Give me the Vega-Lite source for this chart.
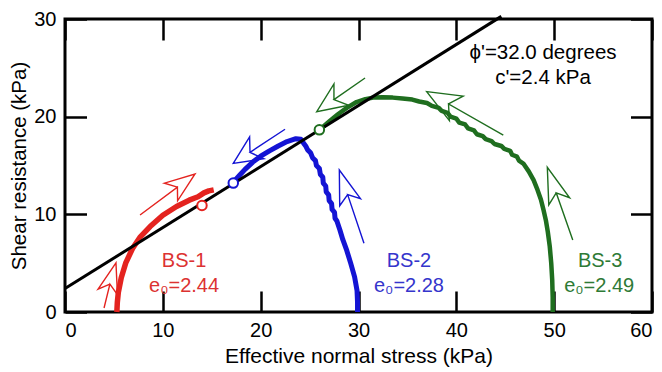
{
  "$schema": "https://vega.github.io/schema/vega-lite/v6.json",
  "width": 587,
  "height": 293,
  "autosize": {"type": "none"},
  "padding": {"left": 65, "top": 19, "right": 10, "bottom": 60},
  "background": "white",
  "config": {
    "view": {"stroke": "black", "strokeWidth": 3},
    "font": "Liberation Sans",
    "axis": {"domain": false, "ticks": false, "labelColor": "black", "titleColor": "black", "titleFontWeight": "normal", "labelFont": "Liberation Sans", "titleFont": "Liberation Sans"}
  },
  "datasets": {
    "paths": [
      {"g": "BS-1", "s": 5.3, "t": 0}, {"g": "BS-1", "s": 5.35, "t": 1.0}, {"g": "BS-1", "s": 5.45, "t": 2.0}, {"g": "BS-1", "s": 5.75, "t": 3.5}, {"g": "BS-1", "s": 6.2, "t": 5.0}, {"g": "BS-1", "s": 6.9, "t": 6.5}, {"g": "BS-1", "s": 7.7, "t": 7.7}, {"g": "BS-1", "s": 8.7, "t": 8.75}, {"g": "BS-1", "s": 10.0, "t": 9.9}, {"g": "BS-1", "s": 11.4, "t": 10.8}, {"g": "BS-1", "s": 12.7, "t": 11.45}, {"g": "BS-1", "s": 13.6, "t": 11.8}, {"g": "BS-1", "s": 14.2, "t": 12.2}, {"g": "BS-1", "s": 14.7, "t": 12.4}, {"g": "BS-1", "s": 15.2, "t": 12.5},
      {"g": "BS-2", "s": 29.9, "t": 0}, {"g": "BS-2", "s": 29.9, "t": 1.0}, {"g": "BS-2", "s": 29.85, "t": 2.2}, {"g": "BS-2", "s": 29.6, "t": 3.6}, {"g": "BS-2", "s": 29.2, "t": 5.0}, {"g": "BS-2", "s": 28.8, "t": 6.3}, {"g": "BS-2", "s": 28.4, "t": 7.4}, {"g": "BS-2", "s": 28.1, "t": 8.4}, {"g": "BS-2", "s": 27.8, "t": 9.3}, {"g": "BS-2", "s": 27.6, "t": 9.6}, {"g": "BS-2", "s": 27.55, "t": 10.2}, {"g": "BS-2", "s": 27.3, "t": 10.5}, {"g": "BS-2", "s": 27.25, "t": 11.1}, {"g": "BS-2", "s": 27.0, "t": 11.4}, {"g": "BS-2", "s": 26.95, "t": 12.0}, {"g": "BS-2", "s": 26.7, "t": 12.3}, {"g": "BS-2", "s": 26.65, "t": 12.9}, {"g": "BS-2", "s": 26.4, "t": 13.2}, {"g": "BS-2", "s": 26.35, "t": 13.8}, {"g": "BS-2", "s": 26.1, "t": 14.1}, {"g": "BS-2", "s": 26.0, "t": 14.7}, {"g": "BS-2", "s": 25.7, "t": 15.0}, {"g": "BS-2", "s": 25.6, "t": 15.5}, {"g": "BS-2", "s": 25.3, "t": 15.8}, {"g": "BS-2", "s": 25.1, "t": 16.3}, {"g": "BS-2", "s": 24.8, "t": 16.6}, {"g": "BS-2", "s": 24.6, "t": 17.0}, {"g": "BS-2", "s": 24.3, "t": 17.4}, {"g": "BS-2", "s": 24.1, "t": 17.7}, {"g": "BS-2", "s": 23.6, "t": 17.75}, {"g": "BS-2", "s": 22.7, "t": 17.45}, {"g": "BS-2", "s": 21.8, "t": 17.0}, {"g": "BS-2", "s": 20.9, "t": 16.5}, {"g": "BS-2", "s": 20.0, "t": 15.95}, {"g": "BS-2", "s": 19.2, "t": 15.35}, {"g": "BS-2", "s": 18.4, "t": 14.6}, {"g": "BS-2", "s": 17.8, "t": 13.95}, {"g": "BS-2", "s": 17.3, "t": 13.4},
      {"g": "BS-3", "s": 49.85, "t": 0}, {"g": "BS-3", "s": 49.85, "t": 1.5}, {"g": "BS-3", "s": 49.8, "t": 3.3}, {"g": "BS-3", "s": 49.7, "t": 5.0}, {"g": "BS-3", "s": 49.55, "t": 6.7}, {"g": "BS-3", "s": 49.35, "t": 8.2}, {"g": "BS-3", "s": 49.15, "t": 9.4}, {"g": "BS-3", "s": 48.9, "t": 10.5}, {"g": "BS-3", "s": 48.65, "t": 11.5}, {"g": "BS-3", "s": 48.3, "t": 12.5}, {"g": "BS-3", "s": 47.9, "t": 13.5}, {"g": "BS-3", "s": 47.4, "t": 14.4}, {"g": "BS-3", "s": 46.85, "t": 15.2}, {"g": "BS-3", "s": 46.4, "t": 15.5}, {"g": "BS-3", "s": 46.2, "t": 15.9}, {"g": "BS-3", "s": 45.7, "t": 16.1}, {"g": "BS-3", "s": 45.5, "t": 16.5}, {"g": "BS-3", "s": 44.9, "t": 16.7}, {"g": "BS-3", "s": 44.6, "t": 17.0}, {"g": "BS-3", "s": 43.9, "t": 17.2}, {"g": "BS-3", "s": 43.6, "t": 17.5}, {"g": "BS-3", "s": 43.0, "t": 17.7}, {"g": "BS-3", "s": 42.7, "t": 18.0}, {"g": "BS-3", "s": 42.1, "t": 18.2}, {"g": "BS-3", "s": 41.8, "t": 18.6}, {"g": "BS-3", "s": 41.2, "t": 18.8}, {"g": "BS-3", "s": 40.9, "t": 19.2}, {"g": "BS-3", "s": 40.3, "t": 19.4}, {"g": "BS-3", "s": 40.0, "t": 19.8}, {"g": "BS-3", "s": 39.4, "t": 20.0}, {"g": "BS-3", "s": 39.1, "t": 20.4}, {"g": "BS-3", "s": 38.5, "t": 20.6}, {"g": "BS-3", "s": 38.2, "t": 20.9}, {"g": "BS-3", "s": 37.5, "t": 21.1}, {"g": "BS-3", "s": 37.0, "t": 21.4}, {"g": "BS-3", "s": 36.2, "t": 21.55}, {"g": "BS-3", "s": 35.5, "t": 21.75}, {"g": "BS-3", "s": 34.5, "t": 21.85}, {"g": "BS-3", "s": 33.5, "t": 21.95}, {"g": "BS-3", "s": 32.5, "t": 22.0}, {"g": "BS-3", "s": 31.5, "t": 21.95}, {"g": "BS-3", "s": 30.7, "t": 21.8}, {"g": "BS-3", "s": 29.8, "t": 21.5}, {"g": "BS-3", "s": 28.8, "t": 20.9}, {"g": "BS-3", "s": 27.9, "t": 20.25}, {"g": "BS-3", "s": 27.0, "t": 19.5}, {"g": "BS-3", "s": 26.0, "t": 18.65}
    ],
    "fail": [{"s": 0, "t": 2.4}, {"s": 44.6, "t": 30.27}],
    "circles": [{"g": "BS-1", "s": 14.0, "t": 10.9}, {"g": "BS-2", "s": 17.2, "t": 13.2}, {"g": "BS-3", "s": 26.0, "t": 18.65}],
    "arrows": [
      {"a": 1, "g": "BS-1", "s": 3.99, "t": 0.41}, {"a": 1, "g": "BS-1", "s": 4.59, "t": 2.86}, {"a": 1, "g": "BS-1", "s": 5.36, "t": 1.78}, {"a": 1, "g": "BS-1", "s": 5.21, "t": 5.02}, {"a": 1, "g": "BS-1", "s": 3.38, "t": 2.34}, {"a": 1, "g": "BS-1", "s": 4.59, "t": 2.86},
      {"a": 2, "g": "BS-1", "s": 7.67, "t": 9.93}, {"a": 2, "g": "BS-1", "s": 11.49, "t": 12.78}, {"a": 2, "g": "BS-1", "s": 11.51, "t": 11.39}, {"a": 2, "g": "BS-1", "s": 13.29, "t": 14.13}, {"a": 2, "g": "BS-1", "s": 10.16, "t": 13.19}, {"a": 2, "g": "BS-1", "s": 11.49, "t": 12.78},
      {"a": 3, "g": "BS-2", "s": 22.49, "t": 18.71}, {"a": 3, "g": "BS-2", "s": 18.91, "t": 16.35}, {"a": 3, "g": "BS-2", "s": 20.32, "t": 15.69}, {"a": 3, "g": "BS-2", "s": 17.2, "t": 15.22}, {"a": 3, "g": "BS-2", "s": 18.87, "t": 17.92}, {"a": 3, "g": "BS-2", "s": 18.91, "t": 16.35},
      {"a": 4, "g": "BS-2", "s": 30.56, "t": 7.03}, {"a": 4, "g": "BS-2", "s": 28.89, "t": 12.02}, {"a": 4, "g": "BS-2", "s": 30.2, "t": 11.6}, {"a": 4, "g": "BS-2", "s": 28.04, "t": 14.54}, {"a": 4, "g": "BS-2", "s": 28.08, "t": 10.88}, {"a": 4, "g": "BS-2", "s": 28.89, "t": 12.02},
      {"a": 5, "g": "BS-3", "s": 30.67, "t": 23.96}, {"a": 5, "g": "BS-3", "s": 27.49, "t": 21.74}, {"a": 5, "g": "BS-3", "s": 29.0, "t": 21.17}, {"a": 5, "g": "BS-3", "s": 25.73, "t": 20.51}, {"a": 5, "g": "BS-3", "s": 27.49, "t": 23.36}, {"a": 5, "g": "BS-3", "s": 27.49, "t": 21.74},
      {"a": 6, "g": "BS-3", "s": 44.8, "t": 18.12}, {"a": 6, "g": "BS-3", "s": 39.2, "t": 21.3}, {"a": 6, "g": "BS-3", "s": 39.29, "t": 19.6}, {"a": 6, "g": "BS-3", "s": 36.97, "t": 22.56}, {"a": 6, "g": "BS-3", "s": 40.7, "t": 22.1}, {"a": 6, "g": "BS-3", "s": 39.2, "t": 21.3},
      {"a": 7, "g": "BS-3", "s": 51.9, "t": 7.37}, {"a": 7, "g": "BS-3", "s": 50.21, "t": 12.2}, {"a": 7, "g": "BS-3", "s": 51.58, "t": 11.7}, {"a": 7, "g": "BS-3", "s": 49.3, "t": 14.82}, {"a": 7, "g": "BS-3", "s": 49.45, "t": 10.97}, {"a": 7, "g": "BS-3", "s": 50.21, "t": 12.2}
    ],
    "labels": [
      {"g": "BS-1", "s": 12.17, "t": 5.22, "text": "BS-1"}, {"g": "BS-1", "s": 12.17, "t": 2.66, "text": "e₀=2.44"},
      {"g": "BS-2", "s": 35.16, "t": 5.22, "text": "BS-2"}, {"g": "BS-2", "s": 35.16, "t": 2.66, "text": "e₀=2.28"},
      {"g": "BS-3", "s": 54.7, "t": 5.22, "text": "BS-3"}, {"g": "BS-3", "s": 54.6, "t": 2.66, "text": "e₀=2.49"}
    ],
    "notes": [
      {"s": 48.86, "t": 26.52, "text": "ϕ'=32.0 degrees"}, {"s": 48.86, "t": 23.96, "text": "c'=2.4 kPa"}
    ]
  },
  "layer": [
    {
      "data": {"name": "paths"},
      "mark": {"type": "line", "strokeJoin": "round", "strokeCap": "butt"},
      "encoding": {
        "x": {"field": "s", "type": "quantitative", "scale": {"domain": [0, 60], "nice": false, "zero": false},
          "axis": {"orient": "bottom", "values": [0, 10, 20, 30, 40, 50, 60], "ticks": false, "domain": false, "grid": true, "gridColor": "#000000", "gridOpacity": 1, "gridWidth": 2.5, "gridDash": [21, 251], "labelPadding": 8, "labelFontSize": 20, "title": "Effective normal stress (kPa)", "titleFontSize": 21, "titlePadding": 5}},
        "y": {"field": "t", "type": "quantitative", "scale": {"domain": [0, 30], "nice": false, "zero": false},
          "axis": {"orient": "left", "values": [0, 10, 20, 30], "ticks": false, "domain": false, "grid": true, "gridColor": "#000000", "gridOpacity": 1, "gridWidth": 2.5, "gridDash": [21.5, 544], "labelPadding": 9, "labelFontSize": 20, "title": "Shear resistance (kPa)", "titleFontSize": 20.5, "titlePadding": 4}},
        "color": {"field": "g", "type": "nominal", "scale": {"domain": ["BS-1", "BS-2", "BS-3"], "range": ["#e4231f", "#1414d4", "#1f6e1f"]}, "legend": null},
        "strokeWidth": {"field": "g", "type": "nominal", "scale": {"domain": ["BS-1", "BS-2", "BS-3"], "range": [5.5, 4.5, 4.5]}, "legend": null},
        "detail": {"field": "g"},
        "order": {"value": null}
      }
    },
    {
      "data": {"name": "fail"},
      "mark": {"type": "line", "color": "black", "strokeWidth": 3},
      "encoding": {
        "x": {"field": "s", "type": "quantitative"},
        "y": {"field": "t", "type": "quantitative"}
      }
    },
    {
      "data": {"name": "circles"},
      "mark": {"type": "point", "shape": "circle", "filled": true, "fill": "white", "fillOpacity": 1, "strokeWidth": 2, "size": 90, "opacity": 1},
      "encoding": {
        "x": {"field": "s", "type": "quantitative"},
        "y": {"field": "t", "type": "quantitative"},
        "stroke": {"field": "g", "type": "nominal", "scale": {"domain": ["BS-1", "BS-2", "BS-3"], "range": ["#e4231f", "#1414d4", "#1f6e1f"]}, "legend": null}
      }
    },
    {
      "data": {"name": "arrows"},
      "mark": {"type": "line", "strokeWidth": 1.4, "strokeJoin": "miter"},
      "encoding": {
        "x": {"field": "s", "type": "quantitative"},
        "y": {"field": "t", "type": "quantitative"},
        "color": {"field": "g", "type": "nominal", "legend": null},
        "detail": {"field": "a"},
        "order": {"value": null}
      }
    },
    {
      "data": {"name": "labels"},
      "mark": {"type": "text", "fontSize": 20, "align": "center", "baseline": "middle", "font": "Liberation Sans"},
      "encoding": {
        "x": {"field": "s", "type": "quantitative"},
        "y": {"field": "t", "type": "quantitative"},
        "text": {"field": "text"},
        "fill": {"field": "g", "type": "nominal", "scale": {"domain": ["BS-1", "BS-2", "BS-3"], "range": ["#dc3232", "#3535cc", "#2e7a36"]}, "legend": null}
      }
    },
    {
      "data": {"name": "notes"},
      "mark": {"type": "text", "fontSize": 20.5, "align": "center", "baseline": "middle", "color": "black", "font": "Liberation Sans"},
      "encoding": {
        "x": {"field": "s", "type": "quantitative"},
        "y": {"field": "t", "type": "quantitative"},
        "text": {"field": "text"}
      }
    }
  ]
}
